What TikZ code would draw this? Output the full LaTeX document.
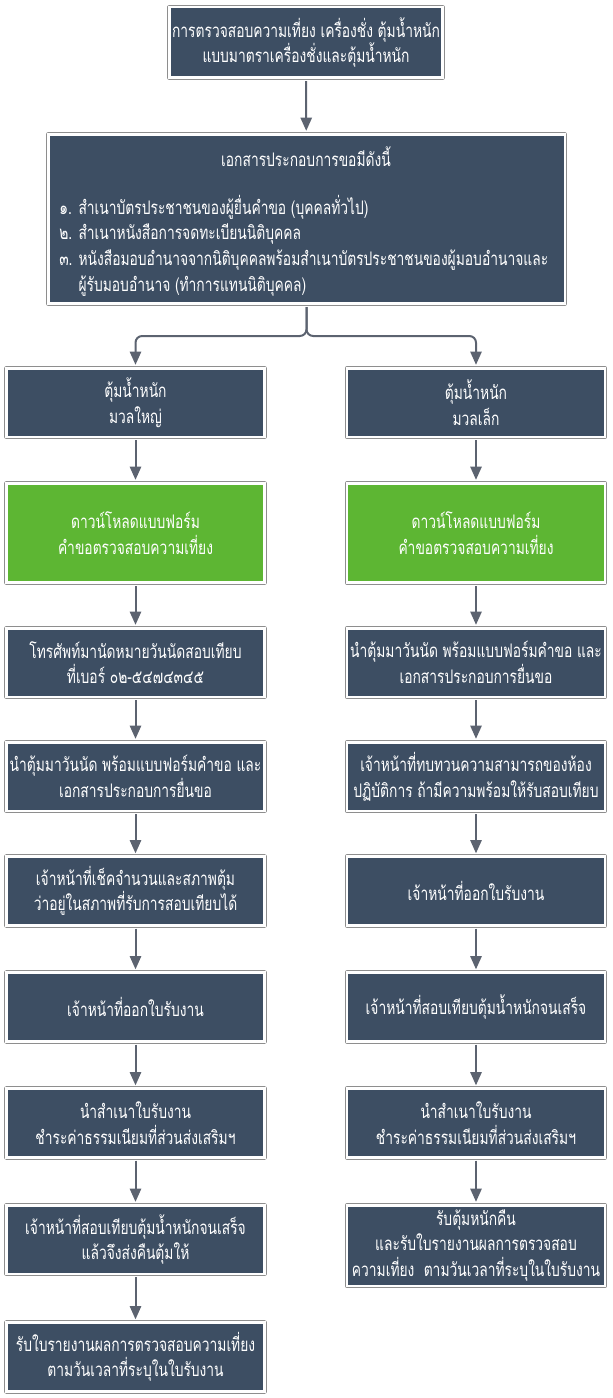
\documentclass[tikz,border=0pt]{standalone}
\usepackage{fontspec}
\newfontfamily\thaifont[Script=Thai, FakeStretch=0.74]{Loma}
\usetikzlibrary{arrows.meta}
\definecolor{boxdark}{HTML}{3D4E63}
\definecolor{boxgreen}{HTML}{5DB633}
\definecolor{linegray}{HTML}{5C6370}
\definecolor{edgegray}{HTML}{8E8E8E}
\tikzset{
  txt/.style={text=white, font=\thaifont\fontsize{14}{19.2}\selectfont},
  stepbox/.style={rectangle, fill=boxdark, draw=white, line width=1.9pt, txt,
    align=center, inner sep=0pt, minimum width=193.5pt, minimum height=51.4pt,
    preaction={draw=edgegray, line width=3.4pt, line join=round}},
  greenbox/.style={stepbox, fill=boxgreen, minimum height=74.6pt},
  conn/.style={draw=linegray, line width=1.5pt, -{Triangle[length=10pt,width=8.5pt]},
    shorten <=1.5pt, shorten >=1.6pt},
  split/.style={conn, rounded corners=5pt},
}
\begin{document}
\begin{tikzpicture}[x=0.75pt, y=-0.75pt]
\useasboundingbox (0,0) rectangle (613,1398);
% top
\node[stepbox, minimum width=205.1pt, minimum height=52.9pt] (top) at (306,42.5)
  {การตรวจสอบความเที่ยง เครื่องชั่ง ตุ้มน้ำหนัก\\แบบมาตราเครื่องชั่งและตุ้มน้ำหนัก};
\node[stepbox, minimum width=387.4pt, minimum height=127.1pt] (doc) at (306.5,219) {};
\node[txt, inner sep=0pt] (doctitle) at (306,157) {เอกสารประกอบการขอมีดังนี้};
\node[txt, inner sep=0pt, anchor=west] (doclist) at (59,247)
  {\begin{tabular}{@{}l@{\hspace{4.5pt}}l@{}}
   ๑. & สำเนาบัตรประชาชนของผู้ยื่นคำขอ (บุคคลทั่วไป)\\
   ๒. & สำเนาหนังสือการจดทะเบียนนิติบุคคล\\
   ๓. & หนังสือมอบอำนาจจากนิติบุคคลพร้อมสำเนาบัตรประชาชนของผู้มอบอำนาจและ\\
      & ผู้รับมอบอำนาจ (ทำการแทนนิติบุคคล)
   \end{tabular}};
% left column
\node[stepbox] (L1) at (135.5,402.5) {ตุ้มน้ำหนัก\\มวลใหญ่};
\node[greenbox] (L2) at (135.5,533) {ดาวน์โหลดแบบฟอร์ม\\คำขอตรวจสอบความเที่ยง};
\node[stepbox] (L3) at (135.5,662.5) {โทรศัพท์มานัดหมายวันนัดสอบเทียบ\\ที่เบอร์ ๐๒-๕๔๗๔๓๔๕};
\node[stepbox] (L4) at (135.5,776.5) {นำตุ้มมาวันนัด พร้อมแบบฟอร์มคำขอ และ\\เอกสารประกอบการยื่นขอ};
\node[stepbox] (L5) at (135.5,891) {เจ้าหน้าที่เช็คจำนวนและสภาพตุ้ม\\ว่าอยู่ในสภาพที่รับการสอบเทียบได้};
\node[stepbox] (L6) at (135.5,1007) {เจ้าหน้าที่ออกใบรับงาน};
\node[stepbox] (L7) at (135.5,1123) {นำสำเนาใบรับงาน\\ชำระค่าธรรมเนียมที่ส่วนส่งเสริมฯ};
\node[stepbox] (L8) at (135.5,1239.5) {เจ้าหน้าที่สอบเทียบตุ้มน้ำหนักจนเสร็จ\\แล้วจึงส่งคืนตุ้มให้};
\node[stepbox] (L9) at (135.5,1357) {รับใบรายงานผลการตรวจสอบความเที่ยง\\ตามวันเวลาที่ระบุในใบรับงาน};
% right column
\node[stepbox] (R1) at (476,402.5) {ตุ้มน้ำหนัก\\มวลเล็ก};
\node[greenbox] (R2) at (476,533) {ดาวน์โหลดแบบฟอร์ม\\คำขอตรวจสอบความเที่ยง};
\node[stepbox] (R3) at (476,662.5) {นำตุ้มมาวันนัด พร้อมแบบฟอร์มคำขอ และ\\เอกสารประกอบการยื่นขอ};
\node[stepbox] (R4) at (476,776.5) {เจ้าหน้าที่ทบทวนความสามารถของห้อง\\ปฏิบัติการ ถ้ามีความพร้อมให้รับสอบเทียบ};
\node[stepbox] (R5) at (476,891) {เจ้าหน้าที่ออกใบรับงาน};
\node[stepbox] (R6) at (476,1007) {เจ้าหน้าที่สอบเทียบตุ้มน้ำหนักจนเสร็จ};
\node[stepbox] (R7) at (476,1123) {นำสำเนาใบรับงาน\\ชำระค่าธรรมเนียมที่ส่วนส่งเสริมฯ};
\node[stepbox, minimum height=60.4pt] (R8) at (476,1245.5) {รับตุ้มหนักคืน\\และรับใบรายงานผลการตรวจสอบ\\ความเที่ยง\ \ ตามวันเวลาที่ระบุในใบรับงาน};
% connectors
\draw[conn] (top) -- (doc);
\draw[split] (doc.south) -- ++(0,31) -| (L1.north);
\draw[split] (doc.south) -- ++(0,31) -| (R1.north);
\foreach \a/\b in {L1/L2,L2/L3,L3/L4,L4/L5,L5/L6,L6/L7,L7/L8,L8/L9,
                   R1/R2,R2/R3,R3/R4,R4/R5,R5/R6,R6/R7,R7/R8}
  \draw[conn] (\a) -- (\b);
\end{tikzpicture}
\end{document}
